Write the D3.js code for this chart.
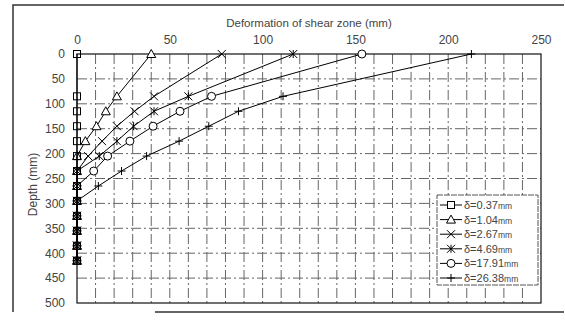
<!DOCTYPE html>
<html>
<head>
<meta charset="utf-8">
<script src="https://cdn.jsdelivr.net/npm/d3@7"></script>
<style>
  body { margin: 0; background: #fff; }
  svg text { font-family: "Liberation Sans", Arial, sans-serif; fill: #444; }
</style>
</head>
<body>
<svg id="chart"></svg>
<script>
// depths where the deformation was read (mm)
const depths = [0, 85, 115, 145, 175, 205, 235, 265, 295, 325, 355, 385, 415];

// deformation of shear zone (mm) for each displacement step
const d037 = [0, 0, 0, 0, 0, 0, 0, 0, 0, 0, 0, 0, 0];
const d104 = [40, 21.5, 15.5, 10.5, 4.5, 0, 0, 0, 0, 0, 0, 0, 0];
const d267 = [78, 41.5, 31, 21.5, 13.5, 6, 0, 0, 0, 0, 0, 0, 0];
const d469 = [116.5, 60, 41.5, 30.5, 21.5, 12, 0, 0, 0, 0, 0, 0, 0];
const d1791 = [153.5, 72.5, 55.5, 41, 28.5, 16.5, 9, 0, 0, 0, 0, 0, 0];
const d2638 = [212.5, 111, 87, 71, 55, 37.5, 24, 11.5, 0, 0, 0, 0, 0];

const seriesNames = ["δ=0.37", "δ=1.04", "δ=2.67", "δ=4.69", "δ=17.91", "δ=26.38"];
const seriesValues = [d037, d104, d267, d469, d1791, d2638];
const seriesMarks = ["square", "triangle", "cross", "star", "circle", "plus"];

const xTicks = [0, 50, 100, 150, 200, 250];
const yTicks = [0, 50, 100, 150, 200, 250, 300, 350, 400, 450, 500];

const width = 565;
const height = 320;
const margin = { top: 54, right: 24, bottom: 17, left: 77 };

const svg = d3.select("#chart").attr("width", width).attr("height", height);

const x = d3.scaleLinear().domain([0, 250]).range([margin.left, width - margin.right]);
const y = d3.scaleLinear().domain([0, 500]).range([margin.top, height - margin.bottom]);

// outer frame (scanned figure border)
svg.append("path")
  .attr("d", "M13,312 L13,5 L564,5 M155,312 L564,312")
  .attr("fill", "none")
  .attr("stroke", "#333")
  .attr("stroke-width", 1.5);

// grid
const grid = svg.append("g").attr("class", "grid");
grid.selectAll("line.v")
  .data(d3.range(10, 250, 10))
  .enter()
  .append("line")
  .attr("x1", (d) => x(d))
  .attr("x2", (d) => x(d))
  .attr("y1", y(0))
  .attr("y2", y(500))
  .attr("stroke", "#666")
  .attr("stroke-dasharray", "10,3,2,3");

grid.selectAll("line.h")
  .data(d3.range(50, 500, 50))
  .enter()
  .append("line")
  .attr("x1", x(0))
  .attr("x2", x(250))
  .attr("y1", (d) => y(d))
  .attr("y2", (d) => y(d))
  .attr("stroke", "#666")
  .attr("stroke-dasharray", "10,3,2,3");

// plot border
svg.append("rect")
  .attr("x", x(0))
  .attr("y", y(0))
  .attr("width", x(250) - x(0))
  .attr("height", y(500) - y(0))
  .attr("fill", "none")
  .attr("stroke", "#111")
  .attr("stroke-width", 1.2);

// axes
const xAxis = svg.append("g")
  .attr("transform", `translate(0,${y(0) - 10})`)
  .call(d3.axisTop(x).tickValues(xTicks).tickSize(0).tickPadding(0));
xAxis.select(".domain").remove();
xAxis.selectAll("text").attr("font-size", 12);

const yAxis = svg.append("g")
  .attr("transform", `translate(${x(0) - 12},0)`)
  .call(d3.axisLeft(y).tickValues(yTicks).tickSize(0).tickPadding(0));
yAxis.select(".domain").remove();
yAxis.selectAll("text").attr("font-size", 12);

svg.append("text")
  .attr("x", (x(0) + x(250)) / 2)
  .attr("y", 27)
  .attr("text-anchor", "middle")
  .attr("font-size", 11.5)
  .text("Deformation of shear zone (mm)");

svg.append("text")
  .attr("transform", `translate(37,${(y(0) + y(500)) / 2 + 6}) rotate(-90)`)
  .attr("text-anchor", "middle")
  .attr("font-size", 12)
  .text("Depth (mm)");

// markers
function drawMark(g, type, cx, cy, fill) {
  const s = 4;
  if (type === "square") {
    g.append("rect").attr("x", cx - 3.5).attr("y", cy - 3.5).attr("width", 7).attr("height", 7)
      .attr("fill", fill).attr("stroke", "#000");
  } else if (type === "triangle") {
    g.append("path").attr("d", `M${cx},${cy - 4.5} L${cx + 4.5},${cy + 3.5} L${cx - 4.5},${cy + 3.5} Z`)
      .attr("fill", fill).attr("stroke", "#000");
  } else if (type === "circle") {
    g.append("circle").attr("cx", cx).attr("cy", cy).attr("r", s)
      .attr("fill", fill).attr("stroke", "#000");
  } else if (type === "cross") {
    g.append("path").attr("d", `M${cx - s},${cy - s} L${cx + s},${cy + s} M${cx - s},${cy + s} L${cx + s},${cy - s}`)
      .attr("stroke", "#000");
  } else if (type === "star") {
    g.append("path").attr("d", `M${cx - s},${cy - s} L${cx + s},${cy + s} M${cx - s},${cy + s} L${cx + s},${cy - s} M${cx},${cy - s} L${cx},${cy + s}`)
      .attr("stroke", "#000");
  } else if (type === "plus") {
    g.append("path").attr("d", `M${cx - s},${cy} L${cx + s},${cy} M${cx},${cy - s} L${cx},${cy + s}`)
      .attr("stroke", "#000");
  }
}

const line = d3.line()
  .x((d) => x(d.x))
  .y((d) => y(d.y));

seriesValues.forEach(function (vals, i) {
  const pts = vals.map((v, j) => ({ x: v, y: depths[j] }));
  const g = svg.append("g").attr("class", "series");
  g.append("path")
    .datum(pts)
    .attr("d", line)
    .attr("fill", "none")
    .attr("stroke", "#000")
    .attr("stroke-width", 1);
  pts.forEach((p) => drawMark(g, seriesMarks[i], x(p.x), y(p.y), p.x === 0 ? "none" : "#fff"));
});

// legend
const legend = svg.append("g").attr("transform", "translate(437,195)");
legend.append("rect")
  .attr("width", 101)
  .attr("height", 90)
  .attr("fill", "#fff")
  .attr("stroke", "#555")
  .attr("stroke-dasharray", "6,1");

seriesNames.forEach(function (name, i) {
  const ly = 10 + i * 14.6;
  const g = legend.append("g");
  g.append("line")
    .attr("x1", 3).attr("x2", 25)
    .attr("y1", ly).attr("y2", ly)
    .attr("stroke", "#000");
  drawMark(g, seriesMarks[i], 14, ly, "#fff");
  const t = g.append("text")
    .attr("x", 27)
    .attr("y", ly + 4)
    .attr("font-size", 11);
  t.append("tspan").text(name);
  t.append("tspan").attr("font-size", 8.5).text("mm");
});
</script>
</body>
</html>
